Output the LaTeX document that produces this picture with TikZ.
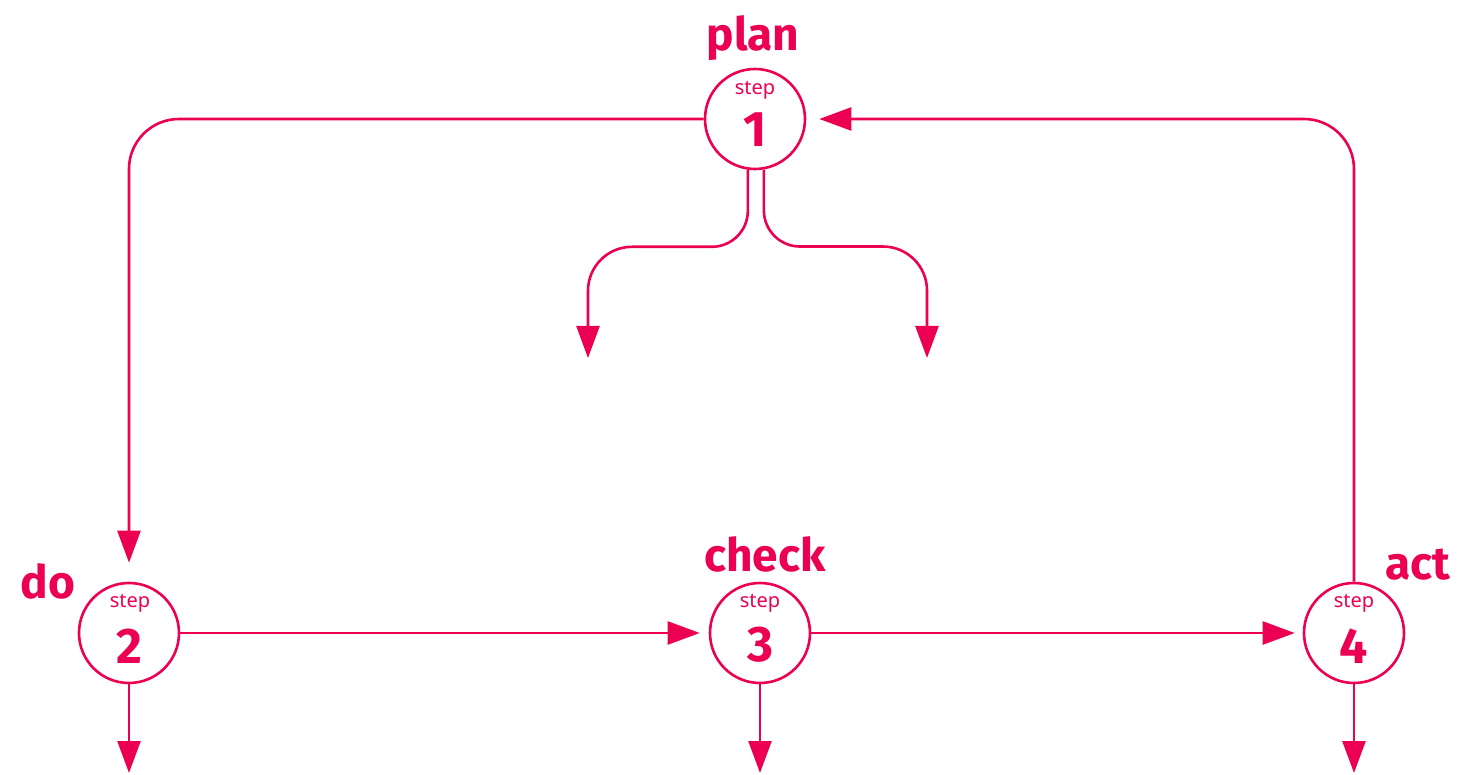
\documentclass[tikz,border=0pt]{standalone}
\usepackage{fontspec}
\setmainfont{Noto Sans}
\newfontfamily\labfont{Fira Sans}
\usetikzlibrary{arrows.meta}
\definecolor{pdca}{RGB}{236,0,82}
\begin{document}
\begin{tikzpicture}[x=0.5pt,y=-0.5pt,
  stepnode/.style={circle,draw=pdca,line width=1.3pt,minimum size=50pt,inner sep=0pt},
  steplbl/.style={text=pdca,inner sep=0pt,font=\fontsize{10}{11}\selectfont},
  stepnum/.style={text=pdca,inner sep=0pt,font=\labfont\bfseries\fontsize{25}{25}\selectfont},
  phase/.style={text=pdca,inner sep=0pt,font=\labfont\bfseries\fontsize{23}{24}\selectfont},
  conn/.style={draw=pdca,line width=1.3pt,-{Triangle[length=16pt,width=11.5pt]}}]
\useasboundingbox (0,0) rectangle (1469,775);

% step circles
\node[stepnode] (s1) at (755,119) {};
\node[stepnode] (s2) at (129,633) {};
\node[stepnode] (s3) at (760,633) {};
\node[stepnode] (s4) at (1354,633) {};

% texts inside circles
\node[steplbl] (t1) at (755,90) {step};
\node[stepnum] (n1) at (755,130) {1};
\node[steplbl] (t2) at (130,603) {step};
\node[stepnum] (n2) at (129,646) {2};
\node[steplbl] (t3) at (760,603) {step};
\node[stepnum] (n3) at (760,645) {3};
\node[steplbl] (t4) at (1354,603) {step};
\node[stepnum] (n4) at (1354,646) {4};

% phase labels
\node[phase] (lplan) at (753,38) {plan};
\node[phase] (ldo) at (48,581) {do};
\node[phase] (lcheck) at (765,554) {check};
\node[phase] (lact) at (1418,565) {act};

% free ends
\coordinate (b2) at (129,773);
\coordinate (b3) at (760,773);
\coordinate (b4) at (1354,773);
\coordinate (l1) at (588,358);
\coordinate (r1) at (927,358);

% loop connectors
\draw[conn,rounded corners=25pt,shorten >=9.5pt] (s1.west) -| (s2.north);
\draw[conn,rounded corners=25pt,shorten >=6.5pt] (s4.north) |- (s1.east);
\draw[conn,shorten >=4.5pt] (s2.east) -- (s3.west);
\draw[conn,shorten >=4pt] (s3.east) -- (s4.west);

% downward arrows
\draw[conn] (s2.south) -- (b2);
\draw[conn] (s3.south) -- (b3);
\draw[conn] (s4.south) -- (b4);

% branches from step 1
\draw[conn] (s1.262) [rounded corners=18pt] -- ++(0,77) [rounded corners=22pt] -| (l1);
\draw[conn] (s1.280) [rounded corners=18pt] -- ++(0,77) [rounded corners=22pt] -| (r1);
\end{tikzpicture}
\end{document}
